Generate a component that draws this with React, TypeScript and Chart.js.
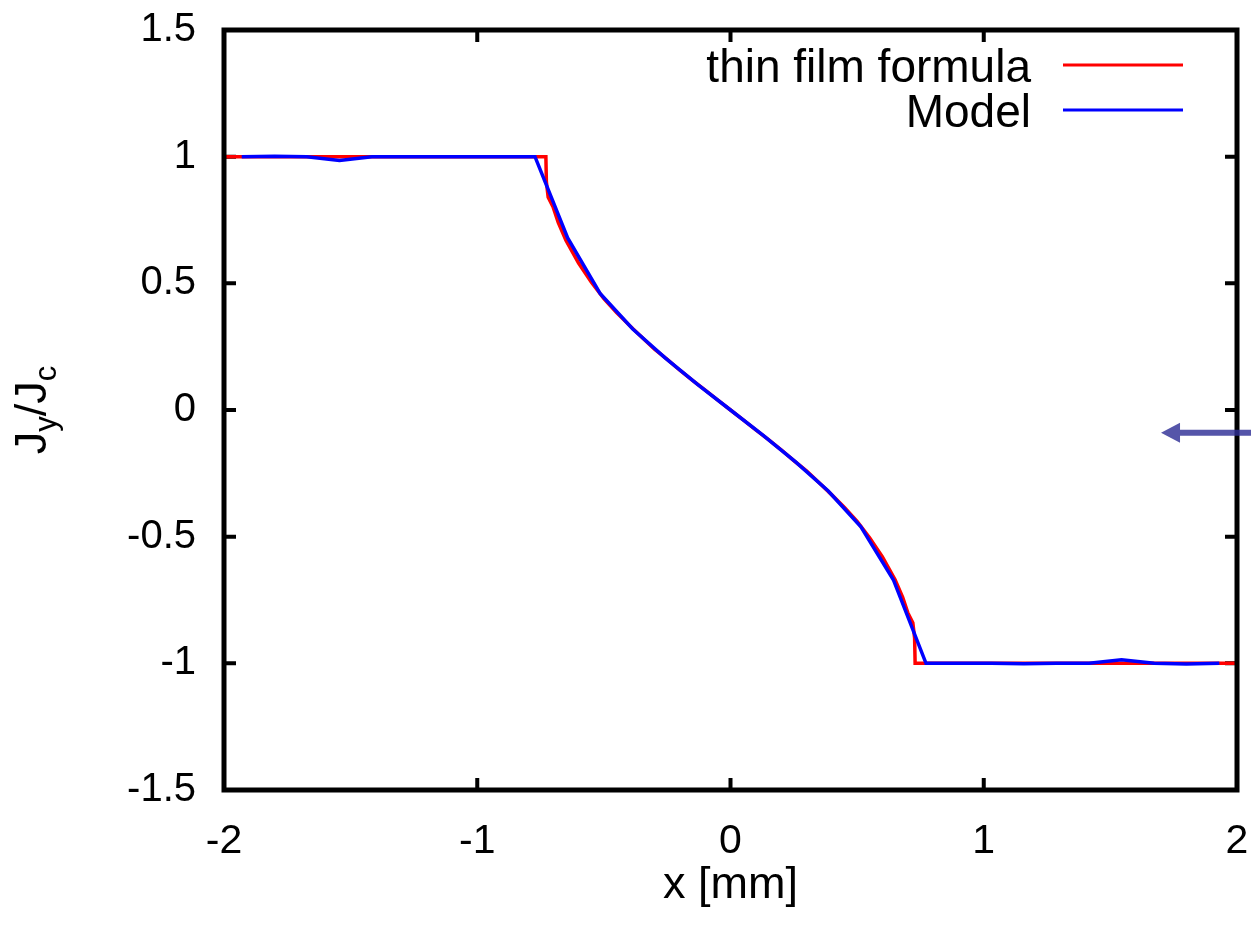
import React, { useEffect, useRef } from "react";
import { Chart, registerables } from "chart.js";

Chart.register(...registerables);

// ---- data ----
const seriesLabels = ["thin film formula", "Model"];

const redX = [-2, -0.729, -0.727, -0.72, -0.7, -0.68, -0.65, -0.6, -0.55, -0.5, -0.45, -0.4, -0.35, -0.3, -0.25, -0.2, -0.15, -0.1, -0.05, 0, 0.05, 0.1, 0.15, 0.2, 0.25, 0.3, 0.35, 0.4, 0.45, 0.5, 0.55, 0.6, 0.65, 0.68, 0.7, 0.72, 0.727, 0.729, 2];
const redY = [1, 1, 0.9, 0.84, 0.8, 0.74, 0.67, 0.58, 0.505, 0.44, 0.385, 0.335, 0.287, 0.24, 0.2, 0.157, 0.117, 0.078, 0.039, 0, -0.039, -0.078, -0.117, -0.157, -0.2, -0.24, -0.287, -0.335, -0.385, -0.44, -0.505, -0.58, -0.67, -0.74, -0.8, -0.84, -0.9, -1, -1];

const blueX = [-1.93, -1.8, -1.673, -1.544, -1.416, -1.287, -1.158, -1.03, -0.901, -0.772, -0.643, -0.515, -0.386, -0.257, -0.129, 0, 0.129, 0.257, 0.386, 0.515, 0.643, 0.772, 0.901, 1.03, 1.158, 1.287, 1.416, 1.544, 1.673, 1.8, 1.93];
const blueY = [1.0, 1.002, 1.0, 0.985, 1.0, 1.0, 1.0, 1.0, 1.0, 1.0, 0.679, 0.46, 0.32, 0.205, 0.1, 0, -0.1, -0.205, -0.32, -0.461, -0.67, -1, -1, -1, -1.002, -1, -1, -0.986, -1, -1.003, -1];

const xTicks = [-2, -1, 0, 1, 2];
const yTicks = [-1.5, -1, -0.5, 0, 0.5, 1, 1.5];

const xTitle = "x [mm]";
const yTitleParts = ["J", "y", "/J", "c"];

// decorative arrow (data coordinates): from x=arrowX[0] to tip at arrowX[1], at arrowY
const arrowX = [2.06, 1.70];
const arrowY = -0.09;

const FONT = '"Liberation Sans", Arial, Helvetica, sans-serif';

export default function App() {
  const ref = useRef<HTMLCanvasElement>(null);

  useEffect(() => {
    const canvas = ref.current;
    if (!canvas) return;
    const ctx = canvas.getContext("2d");
    if (!ctx) return;

    const framePlugin = {
      id: "gnuplotFrame",
      beforeDatasetsDraw(chart: any) {
        const c = chart.ctx;
        const { left, right, top, bottom } = chart.chartArea;
        const xs = chart.scales.x;
        const ys = chart.scales.y;
        const tl = 12;
        c.save();
        c.strokeStyle = "#000";
        c.lineWidth = 4;
        c.lineCap = "butt";
        c.beginPath();
        for (const v of yTicks) {
          const py = ys.getPixelForValue(v);
          c.moveTo(left, py);
          c.lineTo(left + tl, py);
          c.moveTo(right, py);
          c.lineTo(right - tl, py);
        }
        for (const v of xTicks) {
          const px = xs.getPixelForValue(v);
          c.moveTo(px, bottom);
          c.lineTo(px, bottom - tl);
          c.moveTo(px, top);
          c.lineTo(px, top + tl);
        }
        c.stroke();
        c.restore();
      },
      afterDatasetsDraw(chart: any) {
        const c = chart.ctx;
        const { left, right, top, bottom } = chart.chartArea;
        c.save();
        c.strokeStyle = "#000";
        c.lineWidth = 5;
        c.strokeRect(left, top, right - left, bottom - top);
        c.restore();
      },
      afterDraw(chart: any) {
        const c = chart.ctx;
        const xs = chart.scales.x;
        const ys = chart.scales.y;
        const { left, right } = chart.chartArea;
        c.save();

        // legend
        const legendEntries = [
          { label: seriesLabels[0], color: "#ff0000", y: 65 },
          { label: seriesLabels[1], color: "#0000ff", y: 110 },
        ];
        c.font = `46px ${FONT}`;
        c.fillStyle = "#000";
        c.textAlign = "right";
        c.textBaseline = "alphabetic";
        for (const e of legendEntries) {
          c.fillText(e.label, 1031, e.y + 17);
          c.strokeStyle = e.color;
          c.lineWidth = 3;
          c.beginPath();
          c.moveTo(1063, e.y);
          c.lineTo(1183, e.y);
          c.stroke();
        }

        // x title
        c.textAlign = "center";
        c.textBaseline = "middle";
        c.font = `45px ${FONT}`;
        c.fillText(xTitle, (left + right) / 2, 886);

        // y title with subscripts, rotated
        const big = `45px ${FONT}`;
        const small = `31px ${FONT}`;
        const parts = yTitleParts.map((t, i) => ({ t, sub: i % 2 === 1 }));
        let total = 0;
        const widths: number[] = [];
        for (const p of parts) {
          c.font = p.sub ? small : big;
          const w = c.measureText(p.t).width;
          widths.push(w);
          total += w;
        }
        c.translate(46, 410);
        c.rotate(-Math.PI / 2);
        c.textAlign = "left";
        c.textBaseline = "alphabetic";
        let cx = -total / 2;
        parts.forEach((p, i) => {
          c.font = p.sub ? small : big;
          c.fillText(p.t, cx, p.sub ? 10 : 0);
          cx += widths[i];
        });
        c.setTransform(1, 0, 0, 1, 0, 0);

        // arrow
        const x0 = xs.getPixelForValue(arrowX[0]);
        const x1 = xs.getPixelForValue(arrowX[1]);
        const ay = ys.getPixelForValue(arrowY);
        c.fillStyle = "rgba(48,48,150,0.82)";
        const headLen = 19;
        const headHalf = 10;
        const shaftHalf = 3;
        c.beginPath();
        c.moveTo(x1, ay);
        c.lineTo(x1 + headLen, ay - headHalf);
        c.lineTo(x1 + headLen, ay - shaftHalf);
        c.lineTo(x0, ay - shaftHalf);
        c.lineTo(x0, ay + shaftHalf);
        c.lineTo(x1 + headLen, ay + shaftHalf);
        c.lineTo(x1 + headLen, ay + headHalf);
        c.closePath();
        c.fill();

        c.restore();
      },
    };

    const chart = new Chart(ctx, {
      type: "line",
      data: {
        datasets: [
          {
            label: seriesLabels[1],
            data: blueX.map((x, i) => ({ x, y: blueY[i] })),
            borderColor: "#0000ff",
            backgroundColor: "#0000ff",
            borderWidth: 3.5,
            pointRadius: 0,
            tension: 0,
            fill: false,
            order: 0,
          },
          {
            label: seriesLabels[0],
            data: redX.map((x, i) => ({ x, y: redY[i] })),
            borderColor: "#ff0000",
            backgroundColor: "#ff0000",
            borderWidth: 3.5,
            pointRadius: 0,
            tension: 0,
            fill: false,
            order: 1,
          },
        ],
      },
      options: {
        animation: false,
        responsive: false,
        layout: { padding: { top: 30, right: 14, left: 0, bottom: 0 } },
        plugins: {
          legend: { display: false },
          tooltip: { enabled: false },
          title: { display: false },
        },
        scales: {
          x: {
            type: "linear",
            min: -2,
            max: 2,
            afterBuildTicks: (s: any) => {
              s.ticks = xTicks.map((v) => ({ value: v }));
            },
            grid: { display: false, drawTicks: false },
            border: { display: false },
            ticks: {
              color: "#000",
              font: { family: FONT, size: 41 },
              padding: 27,
              maxRotation: 0,
              autoSkip: false,
              callback: (v: any) => String(v),
            },
            afterFit: (s: any) => {
              s.height = 142;
              s.paddingLeft = 0;
              s.paddingRight = 0;
            },
          },
          y: {
            type: "linear",
            min: -1.5,
            max: 1.5,
            afterBuildTicks: (s: any) => {
              s.ticks = yTicks.map((v) => ({ value: v }));
            },
            grid: { display: false, drawTicks: false },
            border: { display: false },
            ticks: {
              color: "#000",
              font: { family: FONT, size: 40 },
              padding: 28,
              autoSkip: false,
              callback: (v: any) => String(v),
            },
            afterFit: (s: any) => {
              s.width = 224;
              s.paddingTop = 0;
              s.paddingBottom = 0;
            },
          },
        },
      },
      plugins: [framePlugin],
    } as any);

    return () => chart.destroy();
  }, []);

  return (
    <canvas
      ref={ref}
      width={1251}
      height={932}
      style={{ position: "absolute", left: 0, top: 0, display: "block" }}
    />
  );
}
